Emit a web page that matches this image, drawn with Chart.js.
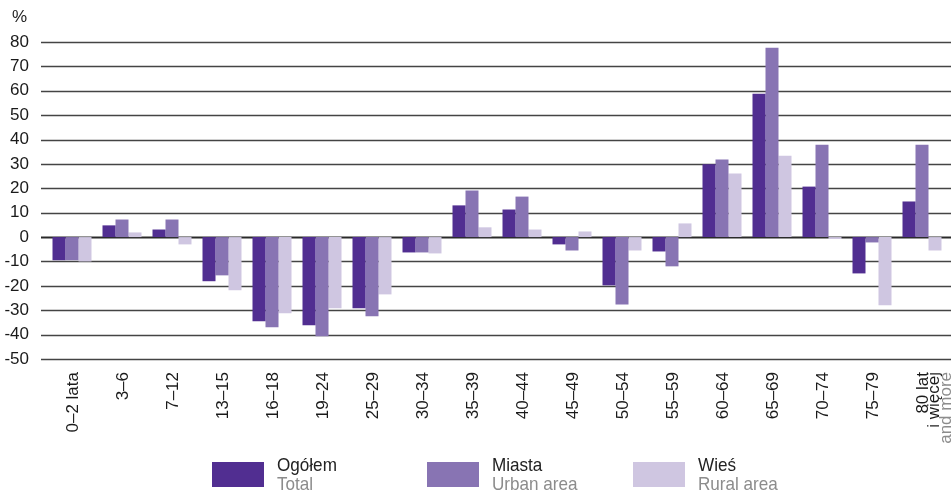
<!DOCTYPE html>
<html>
<head>
<meta charset="utf-8">
<script src="https://cdn.jsdelivr.net/npm/chart.js@4"></script>
<style>
  body { margin: 0; background: #fff; }
  #wrap { position: relative; width: 951px; height: 492px; }
  #unit { position: absolute; left: 12px; top: 7px; font: 17px "Liberation Sans", Arial, sans-serif; color: #222; }
  .leg { position: absolute; top: 455px; font-family: "Liberation Sans", Arial, sans-serif; font-size: 19px; line-height: 19px; }
  .leg .sw { position: absolute; left: 0; top: 7px; width: 52px; height: 25px; }
  .leg .tx { position: absolute; left: 65px; top: 0; white-space: nowrap; color: #222; transform: scaleX(0.9); transform-origin: 0 0; }
  .leg .tx span { color: #8c8c8c; }
</style>
</head>
<body>
<div id="wrap">
  <canvas id="chart" width="951" height="492"></canvas>
  <div id="unit">%</div>
  <div id="legend"></div>
</div>
<script>
// age groups
const categories = ['0–2 lata', '3–6', '7–12', '13–15', '16–18', '19–24', '25–29', '30–34', '35–39',
  '40–44', '45–49', '50–54', '55–59', '60–64', '65–69', '70–74', '75–79', ['80 lat', 'i więcej', 'and more']];

const total = [-9.5, 4.8, 3.1, -18.1, -34.5, -36.2, -29.2, -6.3, 13.0, 11.3, -3.0, -19.8, -5.9, 29.9, 58.8, 20.7, -14.9, 14.6];
const urban = [-9.5, 7.2, 7.2, -15.7, -37.0, -40.7, -32.5, -6.3, 19.1, 16.6, -5.5, -27.6, -12.0, 31.8, 77.6, 37.9, -2.2, 37.9];
const rural = [-10.0, 1.9, -3.0, -21.8, -31.2, -29.2, -23.5, -6.7, 4.0, 3.1, 2.3, -5.5, 5.6, 26.1, 33.4, -0.8, -28.0, -5.5];

const seriesNames = [['Ogółem', 'Total'], ['Miasta', 'Urban area'], ['Wieś', 'Rural area']];
const colors = ['#512e91', '#8874b3', '#cfc6e1'];

const yMin = -50, yMax = 80, yStep = 10;

// legend (two-line labels, so plain html)
const legendX = [212, 427, 633];
const legendEl = document.getElementById('legend');
seriesNames.forEach((n, i) => {
  const d = document.createElement('div');
  d.className = 'leg';
  d.style.left = legendX[i] + 'px';
  d.innerHTML = `<div class="sw" style="background:${colors[i]}"></div><div class="tx">${n[0]}<br><span>${n[1]}</span></div>`;
  legendEl.appendChild(d);
});

// horizontal rules, running a bit left of the plot like the original
const gridPlugin = {
  id: 'grid',
  beforeDatasetsDraw(chart) {
    const ctx = chart.ctx;
    const y = chart.scales.y;
    ctx.save();
    y.ticks.forEach(t => {
      const py = Math.round(y.getPixelForValue(t.value)) + 0.5;
      ctx.beginPath();
      ctx.strokeStyle = t.value === 0 ? '#2a2a2a' : '#444';
      ctx.lineWidth = t.value === 0 ? 2 : 1.4;
      ctx.moveTo(41, py);
      ctx.lineTo(chart.width, py);
      ctx.stroke();
    });
    ctx.restore();
  }
};

// rotated category labels
const labelPlugin = {
  id: 'xlabels',
  afterDraw(chart) {
    const ctx = chart.ctx;
    const x = chart.scales.x;
    ctx.save();
    ctx.font = '17px "Liberation Sans", Arial, sans-serif';
    ctx.textAlign = 'right';
    ctx.textBaseline = 'middle';
    categories.forEach((c, i) => {
      const lines = Array.isArray(c) ? c : [c];
      const px = x.getPixelForValue(i);
      lines.forEach((ln, j) => {
        ctx.save();
        ctx.translate(px + 1 + j * 11.5, 372);
        ctx.rotate(-Math.PI / 2);
        ctx.fillStyle = j === 2 ? '#8c8c8c' : '#1a1a1a';
        ctx.fillText(ln, 0, 0);
        ctx.restore();
      });
    });
    ctx.restore();
  }
};

new Chart(document.getElementById('chart'), {
  type: 'bar',
  data: {
    labels: categories.map(c => Array.isArray(c) ? c.join(' ') : c),
    datasets: [
      { label: seriesNames[0][0], data: total, backgroundColor: colors[0] },
      { label: seriesNames[1][0], data: urban, backgroundColor: colors[1] },
      { label: seriesNames[2][0], data: rural, backgroundColor: colors[2] }
    ]
  },
  options: {
    responsive: false,
    animation: false,
    layout: { padding: { top: 42, right: 4, left: 0, bottom: 0 } },
    datasets: { bar: { categoryPercentage: 0.78, barPercentage: 1.0 } },
    scales: {
      x: {
        grid: { display: false, drawTicks: false },
        border: { display: false },
        ticks: { display: false },
        afterFit: s => { s.height = 133; }
      },
      y: {
        min: yMin, max: yMax,
        grid: { display: false, drawTicks: false },
        border: { display: false },
        ticks: {
          stepSize: yStep,
          padding: 18,
          color: '#1a1a1a',
          font: { family: '"Liberation Sans", Arial, sans-serif', size: 17 }
        },
        afterFit: s => { s.width = 47; }
      }
    },
    plugins: {
      legend: { display: false },
      tooltip: { enabled: false }
    }
  },
  plugins: [gridPlugin, labelPlugin]
});
</script>
</body>
</html>
